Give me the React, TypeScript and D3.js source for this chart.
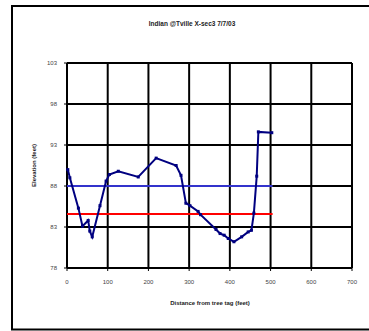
import * as d3 from "d3";

const distance = [2, 7, 28, 38, 52, 56, 62, 81, 96, 104, 126, 175, 219, 268, 280, 292, 302, 322, 328, 366, 376, 386, 396, 410, 429, 445, 453, 459, 466, 470, 503];
const elevation = [90.0, 89.0, 85.3, 83.1, 83.8, 82.5, 81.8, 85.6, 88.6, 89.4, 89.8, 89.1, 91.4, 90.5, 89.3, 85.9, 85.6, 84.9, 84.5, 82.7, 82.2, 82.0, 81.6, 81.2, 81.8, 82.4, 82.6, 84.7, 89.2, 94.6, 94.5];

const blueLevel = 88;
const redLevel = 84.6;
const levelExtent = [0, 505];

const xTicks = [0, 100, 200, 300, 400, 500, 600, 700];
const yTicks = [78, 83, 88, 93, 98, 103];

const width = 369;
const height = 331;
const marginLeft = 67;
const plotRight = 352;
const plotTop = 63;
const plotBottom = 268;

const font = "'Liberation Sans', Arial, sans-serif";

export default function App() {
  const x = d3.scaleLinear().domain([0, 700]).range([marginLeft, plotRight]);
  const y = d3.scaleLinear().domain([78, 103]).range([plotBottom, plotTop]);

  const pts = distance.map((d, i) => [d, elevation[i]] as [number, number]);
  const line = d3
    .line<[number, number]>()
    .x((d) => x(d[0]))
    .y((d) => y(d[1]));

  return (
    <svg
      width={width}
      height={height}
      style={{position: "absolute", left: 0, top: 0, background: "#fff"}}
      fontFamily={font}
    >
      <rect x={12} y={6} width={380} height={323.5} fill="none" stroke="#000" strokeWidth={2} />

      <text x={192} y={26} textAnchor="middle" fontSize={6.5} fontWeight="bold" fill="#222">
        Indian @Tville X-sec3 7/7/03
      </text>

      {/* grid */}
      {xTicks.map((t) => (
        <line key={"gx" + t} x1={x(t)} x2={x(t)} y1={plotTop} y2={plotBottom} stroke="#000" strokeWidth={2} />
      ))}
      {yTicks.map((t) => (
        <line key={"gy" + t} x1={marginLeft} x2={plotRight} y1={y(t)} y2={y(t)} stroke="#000" strokeWidth={2} />
      ))}

      {/* ticks + labels */}
      {yTicks.map((t) => (
        <g key={"ty" + t}>
          <line x1={marginLeft - 3} x2={marginLeft} y1={y(t)} y2={y(t)} stroke="#000" strokeWidth={1} />
          <text x={57} y={y(t)} dy="0.35em" textAnchor="end" fontSize={6} fill="#444">
            {t}
          </text>
        </g>
      ))}
      {xTicks.map((t) => (
        <g key={"tx" + t}>
          <line x1={x(t)} x2={x(t)} y1={plotBottom} y2={plotBottom + 3} stroke="#000" strokeWidth={1} />
          <text x={x(t)} y={284} textAnchor="middle" fontSize={6} fill="#444">
            {t}
          </text>
        </g>
      ))}

      <text x={210} y={305} textAnchor="middle" fontSize={6} fontWeight="bold" fill="#222">
        Distance from tree tag (feet)
      </text>
      <text
        transform={`translate(36,${(plotTop + plotBottom) / 2}) rotate(-90)`}
        textAnchor="middle"
        fontSize={6}
        fontWeight="bold"
        fill="#222"
      >
        Elevation (feet)
      </text>

      {/* reference levels */}
      <line x1={x(levelExtent[0])} x2={x(levelExtent[1])} y1={y(blueLevel)} y2={y(blueLevel)} stroke="#3333cc" strokeWidth={2} />
      <line x1={x(levelExtent[0])} x2={x(levelExtent[1])} y1={y(redLevel)} y2={y(redLevel)} stroke="#ff0000" strokeWidth={2} />

      {/* profile */}
      <path d={line(pts) ?? ""} fill="none" stroke="#000080" strokeWidth={2} />
      {pts.map((p, i) => (
        <rect
          key={i}
          x={x(p[0]) - 1.5}
          y={y(p[1]) - 1.5}
          width={3}
          height={3}
          fill="#000080"
        />
      ))}
    </svg>
  );
}
